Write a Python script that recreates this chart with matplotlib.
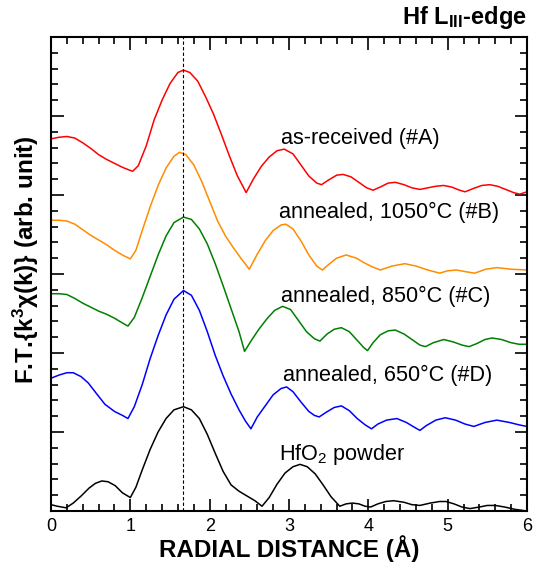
import matplotlib
matplotlib.use("Agg")
import matplotlib.pyplot as plt
from matplotlib.ticker import MultipleLocator, NullFormatter

plt.rcParams['font.family'] = ['Liberation Sans', 'DejaVu Sans']
plt.rcParams['mathtext.fontset'] = 'custom'
plt.rcParams['mathtext.rm'] = 'Liberation Sans'
plt.rcParams['mathtext.it'] = 'Liberation Sans:italic'
plt.rcParams['mathtext.bf'] = 'Liberation Sans:bold'

# as-received (#A)
xA = [0.00, 0.10, 0.20, 0.30, 0.40, 0.50, 0.60, 0.70, 0.80, 0.90, 1.00, 1.03, 1.10, 1.20, 1.30,
      1.40, 1.50, 1.60, 1.67, 1.75, 1.85, 1.95, 2.05, 2.15, 2.25, 2.35, 2.46, 2.55, 2.65, 2.75,
      2.85, 2.94, 3.05, 3.15, 3.25, 3.35, 3.41, 3.50, 3.60, 3.68, 3.78, 3.88, 3.98, 4.06, 4.15,
      4.25, 4.34, 4.45, 4.55, 4.65, 4.75, 4.85, 4.95, 5.05, 5.15, 5.22, 5.32, 5.43, 5.53, 5.63,
      5.73, 5.83, 5.91, 6.00]
yA = [4.71, 4.73, 4.74, 4.72, 4.66, 4.59, 4.51, 4.45, 4.40, 4.35, 4.31, 4.30, 4.37, 4.62, 4.95,
      5.20, 5.41, 5.55, 5.58, 5.55, 5.44, 5.24, 5.02, 4.76, 4.49, 4.24, 4.03, 4.20, 4.36, 4.48,
      4.56, 4.58, 4.52, 4.38, 4.24, 4.15, 4.13, 4.19, 4.25, 4.26, 4.23, 4.16, 4.09, 4.06, 4.10,
      4.15, 4.16, 4.13, 4.09, 4.07, 4.09, 4.11, 4.12, 4.10, 4.06, 4.04, 4.08, 4.12, 4.13, 4.11,
      4.07, 4.03, 4.01, 4.04]

# annealed, 1050C (#B)
xB = [0.00, 0.10, 0.20, 0.30, 0.40, 0.50, 0.60, 0.70, 0.80, 0.90, 1.00, 1.07, 1.15, 1.25, 1.35,
      1.45, 1.55, 1.62, 1.70, 1.80, 1.90, 2.00, 2.10, 2.20, 2.30, 2.40, 2.50, 2.60, 2.70, 2.80,
      2.90, 2.96, 3.05, 3.15, 3.25, 3.35, 3.42, 3.50, 3.60, 3.72, 3.85, 3.95, 4.05, 4.15, 4.30,
      4.46, 4.60, 4.75, 4.90, 5.00, 5.11, 5.22, 5.34, 5.48, 5.62, 5.80, 6.00]
yB = [3.68, 3.68, 3.67, 3.63, 3.56, 3.49, 3.43, 3.37, 3.30, 3.24, 3.19, 3.30, 3.55, 3.85, 4.12,
      4.34, 4.49, 4.54, 4.51, 4.38, 4.17, 3.92, 3.67, 3.48, 3.33, 3.19, 3.06, 3.25, 3.42, 3.55,
      3.62, 3.63, 3.57, 3.42, 3.24, 3.10, 3.05, 3.12, 3.20, 3.24, 3.20, 3.14, 3.09, 3.05, 3.10,
      3.13, 3.10, 3.05, 3.01, 3.04, 3.05, 3.03, 3.01, 3.06, 3.08, 3.06, 3.05]

# annealed, 850C (#C)
xC = [0.00, 0.10, 0.20, 0.30, 0.40, 0.50, 0.60, 0.70, 0.80, 0.90, 0.97, 1.05, 1.15, 1.25, 1.35,
      1.45, 1.55, 1.67, 1.77, 1.87, 1.97, 2.07, 2.17, 2.27, 2.37, 2.44, 2.52, 2.62, 2.72, 2.82,
      2.92, 3.02, 3.12, 3.22, 3.32, 3.39, 3.48, 3.57, 3.66, 3.76, 3.86, 3.94, 3.99, 4.06, 4.15,
      4.25, 4.34, 4.45, 4.55, 4.65, 4.72, 4.82, 4.95, 5.07, 5.18, 5.27, 5.37, 5.47, 5.56, 5.68,
      5.80, 5.90, 6.00]
yC = [2.75, 2.75, 2.74, 2.69, 2.63, 2.58, 2.53, 2.49, 2.44, 2.38, 2.34, 2.45, 2.70, 2.97, 3.24,
      3.48, 3.65, 3.72, 3.69, 3.57, 3.38, 3.13, 2.85, 2.56, 2.27, 2.02, 2.15, 2.30, 2.43, 2.54,
      2.59, 2.55, 2.41, 2.27, 2.18, 2.15, 2.24, 2.30, 2.32, 2.27, 2.16, 2.07, 2.03, 2.13, 2.23,
      2.28, 2.29, 2.24, 2.17, 2.10, 2.08, 2.13, 2.17, 2.14, 2.10, 2.08, 2.12, 2.17, 2.19, 2.17,
      2.13, 2.11, 2.11]

# annealed, 650C (#D)
xD = [0.00, 0.10, 0.20, 0.28, 0.38, 0.47, 0.57, 0.68, 0.80, 0.90, 0.97, 1.05, 1.15, 1.25, 1.35,
      1.45, 1.55, 1.67, 1.77, 1.87, 1.97, 2.07, 2.17, 2.27, 2.37, 2.45, 2.52, 2.60, 2.70, 2.80,
      2.90, 2.97, 3.05, 3.15, 3.25, 3.32, 3.38, 3.47, 3.57, 3.66, 3.76, 3.86, 3.96, 4.04, 4.12,
      4.23, 4.36, 4.48, 4.58, 4.65, 4.73, 4.85, 4.97, 5.10, 5.22, 5.33, 5.47, 5.62, 5.78, 5.90,
      6.00]
yD = [1.68, 1.72, 1.75, 1.75, 1.70, 1.62, 1.49, 1.35, 1.26, 1.21, 1.17, 1.32, 1.60, 1.93, 2.22,
      2.48, 2.68, 2.79, 2.73, 2.54, 2.27, 1.97, 1.71, 1.48, 1.28, 1.14, 1.04, 1.19, 1.33, 1.47,
      1.55, 1.57, 1.51, 1.38, 1.26, 1.21, 1.19, 1.25, 1.31, 1.33, 1.27, 1.17, 1.09, 1.04, 1.10,
      1.15, 1.17, 1.12, 1.06, 1.02, 1.08, 1.15, 1.18, 1.15, 1.10, 1.07, 1.12, 1.15, 1.12, 1.09,
      1.07]

# HfO2 powder
xE = [0.00, 0.08, 0.19, 0.28, 0.38, 0.48, 0.56, 0.64, 0.72, 0.81, 0.90, 1.00, 1.07, 1.15, 1.25,
      1.35, 1.45, 1.55, 1.67, 1.77, 1.87, 1.97, 2.07, 2.17, 2.27, 2.37, 2.47, 2.57, 2.66, 2.75,
      2.85, 2.95, 3.05, 3.14, 3.23, 3.33, 3.43, 3.53, 3.64, 3.72, 3.80, 3.88, 3.96, 4.03, 4.12,
      4.22, 4.32, 4.45, 4.55, 4.65, 4.78, 4.90, 4.98, 5.08, 5.18, 5.28, 5.40, 5.50, 5.60, 5.72,
      5.85, 6.00]
yE = [0.08, 0.06, 0.04, 0.10, 0.19, 0.29, 0.35, 0.38, 0.37, 0.32, 0.23, 0.17, 0.30, 0.52, 0.78,
      1.00, 1.17, 1.28, 1.32, 1.28, 1.17, 0.97, 0.73, 0.50, 0.33, 0.25, 0.19, 0.13, 0.06, 0.17,
      0.34, 0.48, 0.56, 0.59, 0.56, 0.47, 0.33, 0.18, 0.06, 0.09, 0.10, 0.09, 0.06, 0.05, 0.09,
      0.12, 0.13, 0.11, 0.08, 0.07, 0.10, 0.12, 0.12, 0.09, 0.05, 0.03, 0.05, 0.07, 0.07, 0.05,
      0.02, 0.00]

labels = ["as-received (#A)", "annealed, 1050°C (#B)", "annealed, 850°C (#C)",
          "annealed, 650°C (#D)", "HfO$_2$ powder"]
label_x = [2.90, 2.87, 2.90, 2.92, 2.87]
label_y = [4.72, 3.78, 2.71, 1.72, 0.71]
colors = ['#ff0000', '#ff8c00', '#008000', '#0000ff', '#000000']
peak_r = 1.67

fig = plt.figure(figsize=(5.33, 5.63), dpi=100)
ax = fig.add_axes([0.0957, 0.0924, 0.893, 0.842])

curves = [(xA, yA), (xB, yB), (xC, yC), (xD, yD), (xE, yE)]
for (x, y), c in zip(curves, colors):
    ax.plot(x, y, color=c, lw=1.1)

for lab, lx, ly in zip(labels, label_x, label_y):
    ax.text(lx, ly, lab, fontsize=15.6, va='center', ha='left')

ax.axvline(peak_r, color='black', lw=0.8, ls=(0, (3, 2)))

ax.set_xlim(0, 6)
ax.set_ylim(0, 6)
ax.xaxis.set_major_locator(MultipleLocator(1))
ax.xaxis.set_minor_locator(MultipleLocator(0.2))
ax.yaxis.set_major_locator(MultipleLocator(1))
ax.yaxis.set_minor_locator(MultipleLocator(0.2))
ax.yaxis.set_major_formatter(NullFormatter())
ax.tick_params(which='both', direction='in', top=True, right=True, width=1.2)
ax.tick_params(which='major', length=9, labelsize=13, pad=5)
ax.tick_params(which='minor', length=5)
for s in ax.spines.values():
    s.set_linewidth(1.5)

ax.set_xlabel("RADIAL DISTANCE (Å)", fontsize=17.5, fontweight='bold', labelpad=0)
ax.set_ylabel(r"F.T.{k$^\mathbf{3}$χ(k)} (arb. unit)", fontsize=17.5, fontweight='bold')
ax.yaxis.set_label_coords(-0.02, 0.53)
ax.text(1.0, 1.012, r"Hf L$_\mathbf{III}$-edge", transform=ax.transAxes, ha='right',
        va='bottom', fontsize=17, fontweight='bold')

plt.savefig("out.png", dpi=100)
